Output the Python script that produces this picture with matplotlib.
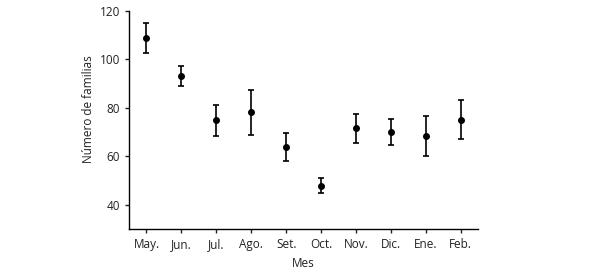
import matplotlib
matplotlib.use("Agg")
import matplotlib.pyplot as plt
import numpy as np

# monthly means with lower / upper limits of the error bars
months = ["May.", "Jun.", "Jul.", "Ago.", "Set.", "Oct.", "Nov.", "Dic.", "Ene.", "Feb."]
means = [109.0, 93.1, 75.0, 78.3, 63.7, 47.8, 71.5, 69.9, 68.5, 75.0]
lower = [102.6, 89.0, 68.6, 69.0, 58.0, 44.9, 65.6, 64.6, 60.2, 67.0]
upper = [115.0, 97.3, 81.3, 87.5, 69.5, 50.9, 77.4, 75.4, 76.5, 83.1]

plt.rcParams["font.family"] = ["Open Sans", "DejaVu Sans"]
plt.rcParams["font.size"] = 8.5

fig = plt.figure(figsize=(5.9, 2.7), dpi=100)
ax = fig.add_axes([0.2186, 0.152, 0.592, 0.807])

x = np.arange(len(months))
m = np.array(means)
yerr = [m - np.array(lower), np.array(upper) - m]
ax.errorbar(x, m, yerr=yerr, fmt="o", color="black", ms=4,
            elinewidth=1.2, capsize=2.5, capthick=1.2)

ax.set_xlim(-0.5, 9.5)
ax.set_ylim(30, 120)
ax.set_xticks(x)
ax.set_xticklabels(months)
ax.set_yticks([40, 60, 80, 100, 120])
ax.spines["top"].set_visible(False)
ax.spines["right"].set_visible(False)
for s in ("left", "bottom"):
    ax.spines[s].set_linewidth(1.0)
ax.tick_params(length=3, width=1.0, colors="#222222", labelcolor="#222222")

ax.set_xlabel("Mes", labelpad=4, color="#222222")
ax.set_ylabel("Número de familias", labelpad=3, color="#222222")
# label sits a bit above the axis centre in the original
ax.yaxis.label.set_y(0.548)

fig.savefig("out.png", dpi=100)
